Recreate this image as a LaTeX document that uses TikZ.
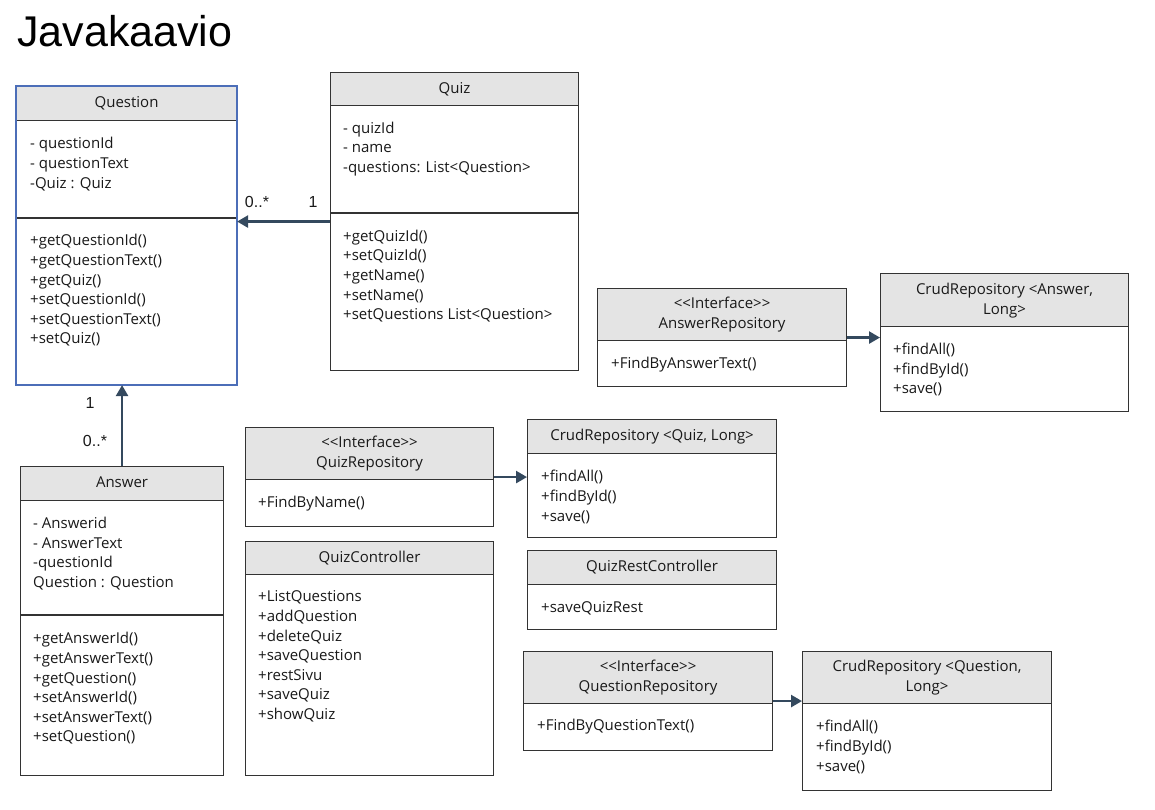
\documentclass[tikz,border=0pt]{standalone}
\usepackage{fontspec}
\setmainfont{Open Sans}
\newfontfamily\titlefont{Liberation Sans}
\usetikzlibrary{arrows.meta, positioning}

\definecolor{hdrgray}{RGB}{228,228,228}
\definecolor{edgegray}{RGB}{51,51,51}
\definecolor{selblue}{RGB}{76,110,184}
\definecolor{linkblue}{RGB}{52,73,94}

\begin{document}
\begin{tikzpicture}[
        % styles
        x=1pt, y=-1pt,
        every node/.style = {font=\fontsize{15}{19.6}\selectfont, text=black!90},
        % class box
        cls/.style = {
            rectangle,
            draw=edgegray,
            line width=1.1pt,
            fill=white,
            anchor=north west,
            inner sep=0pt
        },
        % class header
        hdr/.style = {
            rectangle,
            draw=edgegray,
            line width=1.1pt,
            fill=hdrgray,
            anchor=north west,
            inner sep=0pt,
            align=center,
            text depth=3pt,
            font=\fontsize{15}{20}\selectfont
        },
        members/.style = {anchor=west, align=left, inner sep=0pt, yshift=-1.5pt},
        sep/.style = {draw=edgegray, line width=1.1pt},
        % arrows
        arrow/.style = {
            -{Triangle[length=11pt, width=12pt]},
            line width=2.5pt,
            draw=linkblue
        },
        mult/.style = {font=\titlefont\fontsize{16}{16}\selectfont, inner sep=0pt}
    ]
        \useasboundingbox (0,0) rectangle (1155,809);

        % 0. Title
        \node[anchor=base west, inner sep=0pt, font=\titlefont\fontsize{43}{43}\selectfont, text=black] (title) at (17,46) {Javakaavio};

        % 1. Classes
        % Question
        \node[cls, minimum width=220, minimum height=298] (question) at (16,86) {};
        \node[hdr, minimum width=220, minimum height=34] (questionH) at (question.north west) {Question};
        \draw[sep] (question.west |- 0,218) -- (question.east |- 0,218);
        \node[members] (questionA) at (30,162.5) {- questionId\\- questionText\\-Quiz : Quiz};
        \node[members] (questionM) at (30,289) {+getQuestionId()\\+getQuestionText()\\+getQuiz()\\+setQuestionId()\\+setQuestionText()\\+setQuiz()};
        \draw[selblue, line width=2pt] (question.north west) rectangle (question.south east);

        % Quiz
        \node[cls, minimum width=248, minimum height=298] (quiz) at (330,72) {};
        \node[hdr, minimum width=248, minimum height=33] (quizH) at (quiz.north west) {Quiz};
        \draw[sep] (quiz.west |- 0,213) -- (quiz.east |- 0,213);
        \node[members] (quizA) at (343,147.5) {- quizId\\- name\\-questions: List<Question>};
        \node[members] (quizM) at (343,274.5) {+getQuizId()\\+setQuizId()\\+getName()\\+setName()\\+setQuestions List<Question>};

        % Answer
        \node[cls, minimum width=203, minimum height=309] (answer) at (20,466) {};
        \node[hdr, minimum width=203, minimum height=34] (answerH) at (answer.north west) {Answer};
        \draw[sep] (answer.west |- 0,615) -- (answer.east |- 0,615);
        \node[members] (answerA) at (33,552) {- Answerid\\- AnswerText\\-questionId\\Question : Question};
        \node[members] (answerM) at (33,687) {+getAnswerId()\\+getAnswerText()\\+getQuestion()\\+setAnswerId()\\+setAnswerText()\\+setQuestion()};

        % QuizRepository
        \node[cls, minimum width=248, minimum height=99] (quizRepo) at (245,427) {};
        \node[hdr, minimum width=248, minimum height=52] (quizRepoH) at (quizRepo.north west) {<{}<Interface>{}>\\QuizRepository};
        \node[members] (quizRepoM) at (258,502) {+FindByName()};

        % QuizController
        \node[cls, minimum width=248, minimum height=234] (quizCtrl) at (245,541) {};
        \node[hdr, minimum width=248, minimum height=33] (quizCtrlH) at (quizCtrl.north west) {QuizController};
        \node[members] (quizCtrlM) at (258,655) {+ListQuestions\\+addQuestion\\+deleteQuiz\\+saveQuestion\\+restSivu\\+saveQuiz\\+showQuiz};

        % CrudRepository <Quiz, Long>
        \node[cls, minimum width=249, minimum height=118] (crudQuiz) at (527,419) {};
        \node[hdr, minimum width=249, minimum height=34] (crudQuizH) at (crudQuiz.north west) {CrudRepository <Quiz, Long>};
        \node[members] (crudQuizM) at (541,495.5) {+findAll()\\+findById()\\+save()};

        % QuizRestController
        \node[cls, minimum width=249, minimum height=79] (quizRest) at (527,550) {};
        \node[hdr, minimum width=249, minimum height=34] (quizRestH) at (quizRest.north west) {QuizRestController};
        \node[members] (quizRestM) at (541,607) {+saveQuizRest};

        % AnswerRepository
        \node[cls, minimum width=249, minimum height=98] (answerRepo) at (597,288) {};
        \node[hdr, minimum width=249, minimum height=52] (answerRepoH) at (answerRepo.north west) {<{}<Interface>{}>\\AnswerRepository};
        \node[members] (answerRepoM) at (611,363) {+FindByAnswerText()};

        % CrudRepository <Answer, Long>
        \node[cls, minimum width=248, minimum height=138] (crudAnswer) at (880,273) {};
        \node[hdr, minimum width=248, minimum height=53] (crudAnswerH) at (crudAnswer.north west) {CrudRepository <Answer,\\Long>};
        \node[members] (crudAnswerM) at (893,368) {+findAll()\\+findById()\\+save()};

        % QuestionRepository
        \node[cls, minimum width=249, minimum height=99] (questionRepo) at (523,651) {};
        \node[hdr, minimum width=249, minimum height=52] (questionRepoH) at (questionRepo.north west) {<{}<Interface>{}>\\QuestionRepository};
        \node[members] (questionRepoM) at (537,725) {+FindByQuestionText()};

        % CrudRepository <Question, Long>
        \node[cls, minimum width=249, minimum height=139] (crudQuestion) at (802,651) {};
        \node[hdr, minimum width=249, minimum height=52] (crudQuestionH) at (crudQuestion.north west) {CrudRepository <Question,\\Long>};
        \node[members] (crudQuestionM) at (816,745.5) {+findAll()\\+findById()\\+save()};

        % 2. Arrows
        \draw[arrow] (quiz.west) -- (quiz.west -| question.east);
        \draw[arrow] (answer.north) -- (answer.north |- question.south);
        \draw[arrow] (quizRepo.east) -- (quizRepo.east -| crudQuiz.west);
        \draw[arrow] (answerRepo.east) -- (answerRepo.east -| crudAnswer.west);
        \draw[arrow] (questionRepo.east) -- (questionRepo.east -| crudQuestion.west);

        % 3. Multiplicities
        \node[mult] (quizMany) at (257,202) {0..*};
        \node[mult] (quizOne) at (313,202) {1};
        \node[mult] (answerOne) at (90,403) {1};
        \node[mult] (answerMany) at (95,441) {0..*};

\end{tikzpicture}
\end{document}
